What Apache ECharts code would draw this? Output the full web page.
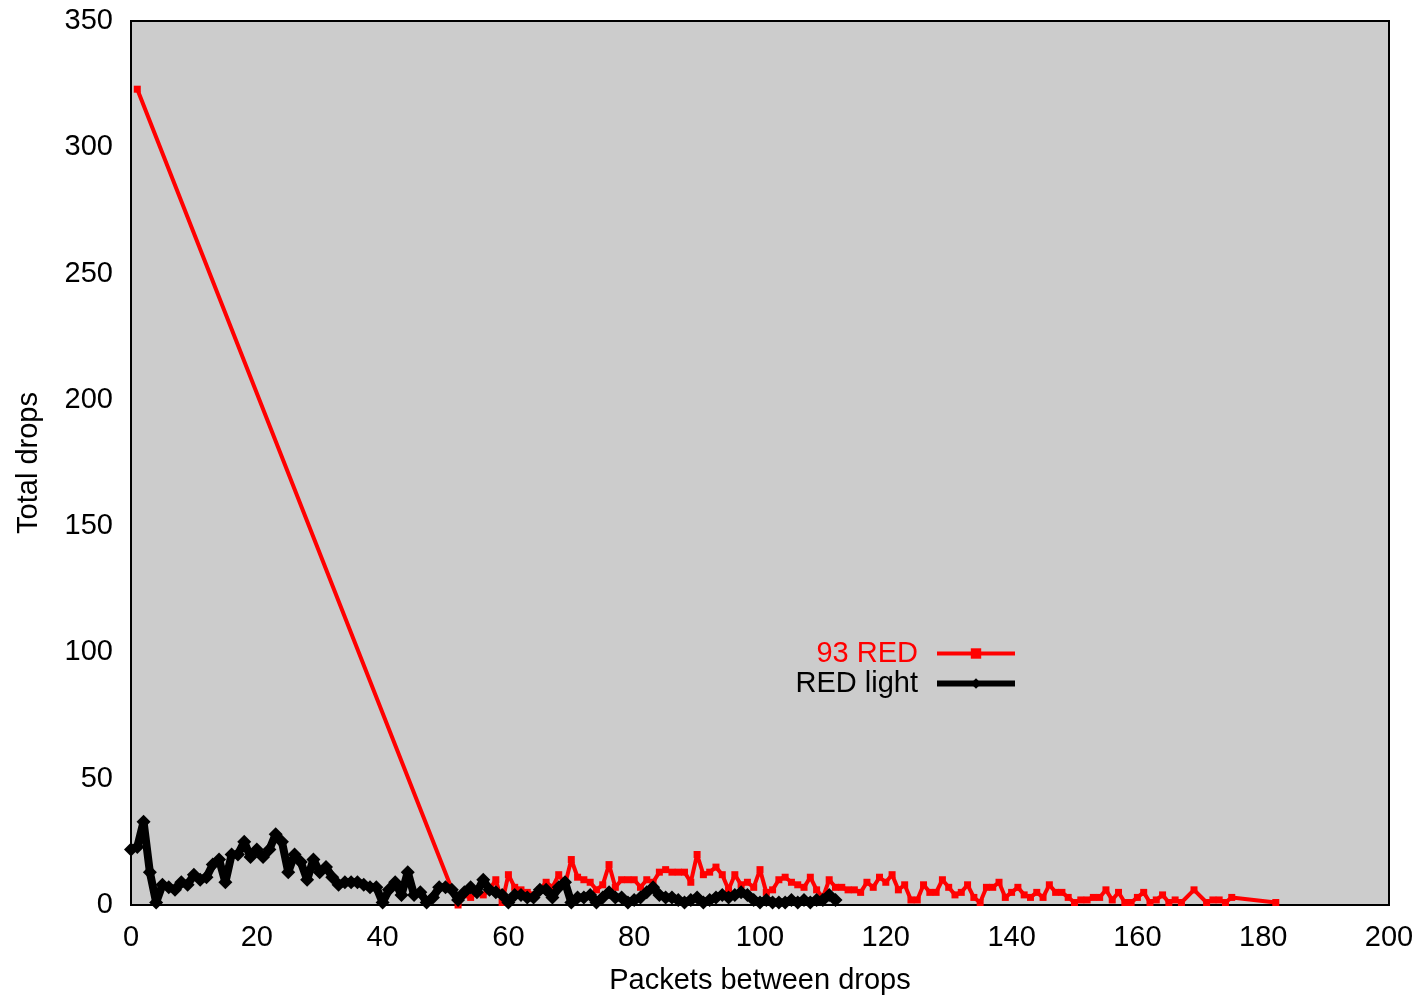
<!DOCTYPE html>
<html>
<head>
<meta charset="utf-8">
<script src="https://cdn.jsdelivr.net/npm/echarts@6/dist/echarts.min.js"></script>
<style>
html,body{margin:0;padding:0;background:#fff;}
#chart{width:1420px;height:997px;}
</style>
</head>
<body>
<div id="chart"></div>
<script>
// ---- data ----
const redName = '93 RED';
const blackName = 'RED light';
const xTitle = 'Packets between drops';
const yTitle = 'Total drops';

const redX = [1,
  52,53,54,55,56,57,58,59,60,61,62,63,64,65,66,67,68,69,70,71,72,73,74,75,76,77,78,79,80,
  81,82,83,84,85,86,87,88,89,90,91,92,93,94,95,96,97,98,99,100,101,102,103,104,105,106,107,108,109,110,
  111,112,113,114,115,116,117,118,119,120,121,122,123,124,125,126,127,128,129,130,131,132,133,134,135,136,137,138,139,140,
  141,142,143,144,145,146,147,148,149,150,151,152,153,154,155,156,157,158,159,160,161,162,163,164,165,166,167,169,
  171,172,173,174,175,182];
const redY = [323,
  0,4,3,5,4,6,10,1,12,7,6,5,4,6,9,7,12,8,18,11,10,9,6,8,16,7,10,10,10,
  7,10,9,13,14,13,13,13,9,20,12,13,15,12,6,12,8,9,7,14,5,6,10,11,9,8,7,11,6,3,
  10,7,7,6,6,5,9,7,11,9,12,6,8,2,2,8,5,5,10,7,4,5,8,3,1,7,7,9,3,5,
  7,4,3,5,3,8,5,5,3,1,2,2,3,3,6,2,5,1,1,3,5,1,2,4,1,2,1,6,
  1,2,2,1,3,1];

const blackX = [0,1,2,3,4,5,6,7,8,9,10,11,12,13,14,15,16,17,18,19,20,21,22,23,24,25,26,27,28,29,
  30,31,32,33,34,35,36,37,38,39,40,41,42,43,44,45,46,47,48,49,50,51,52,53,54,55,56,57,58,59,
  60,61,62,63,64,65,66,67,68,69,70,71,72,73,74,75,76,77,78,79,80,81,82,83,84,85,86,87,88,89,
  90,91,92,93,94,95,96,97,98,99,100,101,102,103,104,105,106,107,108,109,110,111,112];
const blackY = [22,23,33,13,1,8,7,6,9,8,12,10,11,16,18,9,20,20,25,19,22,19,22,28,25,13,20,17,10,18,
  13,15,11,8,9,9,9,8,7,7,1,6,9,4,13,4,5,1,3,7,7,6,2,5,7,5,10,6,5,4,
  1,4,4,3,3,6,6,3,7,9,1,3,3,4,1,3,5,3,3,1,2,3,5,7,4,3,3,2,1,2,
  3,1,2,3,4,3,4,5,4,2,1,2,1,1,1,2,1,2,1,2,2,4,2];

const xTicks = {min: 0, max: 200, step: 20};
const yTicks = {min: 0, max: 350, step: 50};

// ---- chart ----
const pairs = (xs, ys) => xs.map((x, i) => [x, ys[i]]);
const font = '"Liberation Sans", Arial, sans-serif';
const fs = 29;
const chart = echarts.init(document.getElementById('chart'), null, {renderer: 'canvas'});
chart.setOption({
  animation: false,
  backgroundColor: '#ffffff',
  textStyle: {fontFamily: font},
  grid: {
    left: 131, right: 31, top: 21, bottom: 92,
    outerBoundsMode: 'none', containLabel: false,
    show: true, backgroundColor: '#cccccc', borderColor: '#000000', borderWidth: 2
  },
  legend: {
    orient: 'vertical',
    right: 397,
    top: 634,
    align: 'right',
    itemWidth: 78,
    itemHeight: 13,
    itemGap: 1,
    textStyle: {fontFamily: font, fontSize: fs, padding: [0, 14, 0, 0]},
    data: [
      {name: redName, textStyle: {color: '#ff0000'}, lineStyle: {width: 4}},
      {name: blackName, textStyle: {color: '#000000'}, lineStyle: {width: 6}}
    ]
  },
  xAxis: {
    type: 'value', min: xTicks.min, max: xTicks.max, interval: xTicks.step,
    name: xTitle, nameLocation: 'middle', nameGap: 61,
    nameTextStyle: {fontSize: fs, color: '#000', fontFamily: font},
    axisLine: {show: false}, axisTick: {show: false}, splitLine: {show: false},
    axisLabel: {fontSize: fs, color: '#000', margin: 18, fontFamily: font}
  },
  yAxis: {
    type: 'value', min: yTicks.min, max: yTicks.max, interval: yTicks.step,
    name: yTitle, nameLocation: 'middle', nameGap: 88,
    nameTextStyle: {fontSize: fs, color: '#000', fontFamily: font},
    axisLine: {show: false}, axisTick: {show: false}, splitLine: {show: false},
    axisLabel: {fontSize: fs, color: '#000', margin: 18, fontFamily: font, padding: [5, 0, 0, 0]}
  },
  series: [
    {
      name: redName, type: 'line', data: pairs(redX, redY),
      symbol: 'rect', symbolSize: 7, showSymbol: true,
      lineStyle: {color: '#ff0000', width: 4},
      itemStyle: {color: '#ff0000'},
      z: 2
    },
    {
      name: blackName, type: 'line', data: pairs(blackX, blackY),
      symbol: 'diamond', symbolSize: 14, showSymbol: true,
      lineStyle: {color: '#000000', width: 8},
      itemStyle: {color: '#000000'},
      z: 3
    }
  ]
});
</script>
</body>
</html>
